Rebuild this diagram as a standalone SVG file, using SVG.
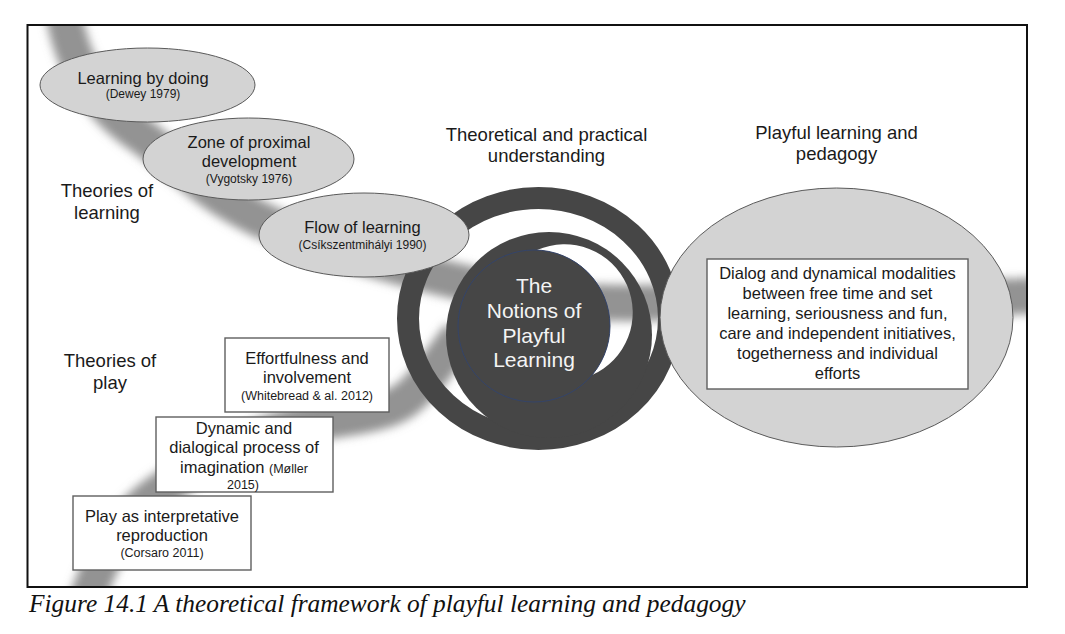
<svg xmlns="http://www.w3.org/2000/svg" width="1065" height="634" viewBox="0 0 1065 634">
<style>
  text { font-family: "Liberation Sans", Arial, sans-serif; fill: #1a1a1a; text-anchor: middle; }
  .head { font-size: 18.5px; }
  .main { font-size: 16.5px; }
  .cite { font-size: 12px; }
  .oval { fill: #d3d3d3; stroke: #5a5a5a; stroke-width: 1; }
  .box { fill: #ffffff; stroke: #5f5f5f; stroke-width: 1.4; }
  .band { fill: none; stroke: #939393; stroke-width: 36; stroke-linecap: butt; filter: url(#blur); }
  .dark { fill: #464646; }
  .disktext { font-size: 21px; fill: #f4f4f4; }
  .caption { font-family: "Liberation Serif", "Times New Roman", serif; font-style: italic; font-size: 25.4px; text-anchor: start; fill: #111; }
</style>
<defs>
  <filter id="blur" x="-20%" y="-20%" width="140%" height="140%">
    <feGaussianBlur stdDeviation="5"/>
  </filter>
  <mask id="crescentHole" maskUnits="userSpaceOnUse" x="0" y="0" width="1065" height="634">
    <rect x="0" y="0" width="1065" height="634" fill="#fff"/>
    <path d="M 537 250.1 A 68 68 0 0 1 592 375 A 76 76 0 0 0 537 250.1 Z" fill="#000"/>
  </mask>
  <clipPath id="frameClip">
    <rect x="28" y="26" width="998" height="560"/>
  </clipPath>
</defs>

<rect x="0" y="0" width="1065" height="634" fill="#ffffff"/>

<g id="background-bands" clip-path="url(#frameClip)">
  <path class="band" d="M 62 5 C 70 60, 95 105, 140 135 C 175 160, 200 185, 225 200 C 260 222, 300 238, 340 250 C 400 268, 480 290, 560 300 C 620 306, 680 302, 1045 296"/>
  <path class="band" d="M 85 605 C 100 560, 120 520, 155 495 C 200 462, 250 435, 300 425 C 350 417, 385 415, 405 400 C 425 385, 440 360, 460 335"/>
</g>

<g id="connectors"></g>

<g id="frame">
  <rect x="27.5" y="25" width="999.5" height="562" fill="none" stroke="#111" stroke-width="2"/>
</g>

<g id="notions-of-playful-learning">
  <ellipse cx="538.5" cy="318.5" rx="130.5" ry="120.5" fill="none" stroke="#464646" stroke-width="22"/>
  <circle class="dark" cx="549" cy="335" r="103" mask="url(#crescentHole)"/>
  <circle cx="534" cy="326" r="76" fill="#464646" stroke="#34446a" stroke-width="1"/>
  <text class="disktext" x="534" y="293">The</text>
  <text class="disktext" x="534" y="318">Notions of</text>
  <text class="disktext" x="534" y="343">Playful</text>
  <text class="disktext" x="534" y="367">Learning</text>
</g>

<g id="theories-of-learning-label">
  <text class="head" x="107" y="197">Theories of</text>
  <text class="head" x="107" y="219">learning</text>
</g>

<g id="theories-of-play-label">
  <text class="head" x="110" y="367">Theories of</text>
  <text class="head" x="110" y="389">play</text>
</g>

<g id="theoretical-practical-label">
  <text class="head" x="546.5" y="141">Theoretical and practical</text>
  <text class="head" x="546.5" y="162">understanding</text>
</g>

<g id="playful-pedagogy-label">
  <text class="head" x="836.5" y="139">Playful learning and</text>
  <text class="head" x="836.5" y="160">pedagogy</text>
</g>

<g id="learning-by-doing">
  <ellipse class="oval" cx="147.5" cy="85" rx="107.5" ry="37"/>
  <text class="main" x="143" y="84">Learning by doing</text>
  <text class="cite" x="143" y="98">(Dewey 1979)</text>
</g>

<g id="zone-of-proximal-development">
  <ellipse class="oval" cx="248.5" cy="159" rx="105.5" ry="41"/>
  <text class="main" x="249" y="148">Zone of proximal</text>
  <text class="main" x="249" y="167">development</text>
  <text class="cite" x="249" y="183">(Vygotsky 1976)</text>
</g>

<g id="flow-of-learning">
  <ellipse class="oval" cx="364" cy="235" rx="105" ry="42"/>
  <text class="main" x="362.5" y="233">Flow of learning</text>
  <text class="cite" x="362.5" y="249">(Csíkszentmihályi 1990)</text>
</g>

<g id="playful-learning-pedagogy">
  <ellipse class="oval" cx="836.5" cy="317.5" rx="176.5" ry="129.5"/>
  <rect class="box" x="707" y="259" width="261" height="130" stroke-width="1"/>
  <text class="main" x="837.5" y="279">Dialog and dynamical modalities</text>
  <text class="main" x="837.5" y="299">between free time and set</text>
  <text class="main" x="837.5" y="319">learning, seriousness and fun,</text>
  <text class="main" x="837.5" y="339">care and independent initiatives,</text>
  <text class="main" x="837.5" y="359">togetherness and individual</text>
  <text class="main" x="837.5" y="379">efforts</text>
</g>

<g id="effortfulness-involvement">
  <rect class="box" x="225" y="338" width="164" height="74"/>
  <text class="main" x="307" y="364">Effortfulness and</text>
  <text class="main" x="307" y="383">involvement</text>
  <text class="cite" x="307" y="400" style="font-size:12.5px">(Whitebread &amp; al. 2012)</text>
</g>

<g id="dynamic-dialogical-process">
  <rect class="box" x="156" y="417" width="177" height="75"/>
  <text class="main" x="244" y="434">Dynamic and</text>
  <text class="main" x="244" y="453">dialogical process of</text>
  <text class="main" x="244" y="473">imagination <tspan style="font-size:12.5px">(Møller</tspan></text>
  <text class="cite" x="243" y="489" style="font-size:12.5px">2015)</text>
</g>

<g id="play-interpretative-reproduction">
  <rect class="box" x="73" y="496" width="178" height="74"/>
  <text class="main" x="162" y="522">Play as interpretative</text>
  <text class="main" x="162" y="541">reproduction</text>
  <text class="cite" x="162" y="557" style="font-size:12.5px">(Corsaro 2011)</text>
</g>

<g id="caption">
  <text class="caption" x="29" y="612">Figure 14.1 A theoretical framework of playful learning and pedagogy</text>
</g>
</svg>
